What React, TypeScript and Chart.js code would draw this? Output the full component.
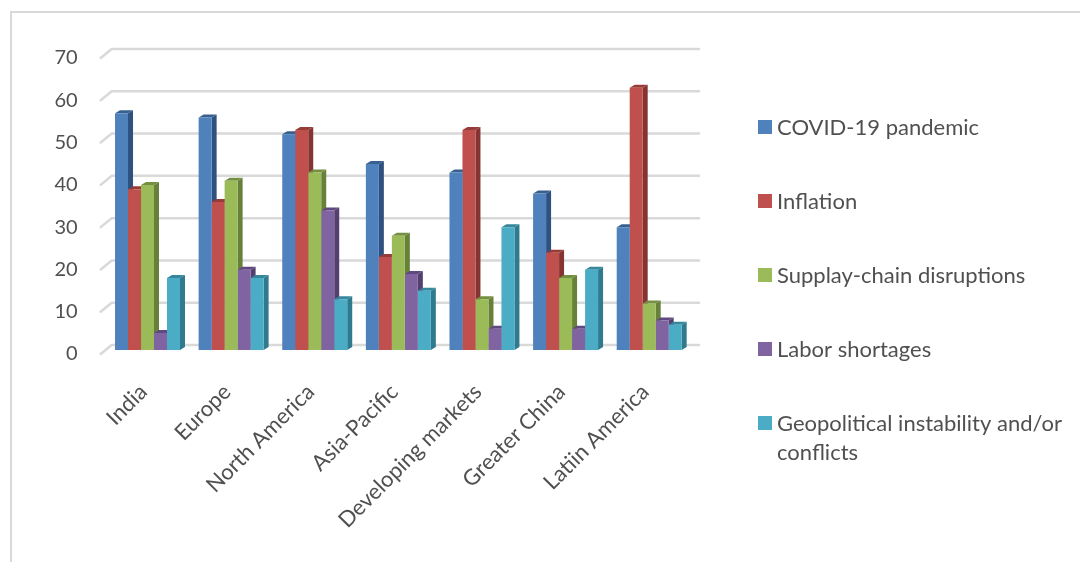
import React, { useEffect, useRef } from "react";
import { Chart, registerables } from "chart.js";

Chart.register(...registerables);

const categories = ["India", "Europe", "North America", "Asia-Pacific", "Developing markets", "Greater China", "Latiin America"];
const covid = [56, 55, 51, 44, 42, 37, 29];
const inflation = [38, 35, 52, 22, 52, 23, 62];
const supply = [39, 40, 42, 27, 12, 17, 11];
const labor = [4, 19, 33, 18, 5, 5, 7];
const geo = [17, 17, 12, 14, 29, 19, 6];
const seriesNames = ["COVID-19 pandemic", "Inflation", "Supplay-chain disruptions", "Labor shortages", "Geopolitical instability and/or conflicts"];
const legendLines = [["COVID-19 pandemic"], ["Inflation"], ["Supplay-chain disruptions"], ["Labor shortages"], ["Geopolitical instability and/or", "conflicts"]];
const front = ["#4F81BD", "#C0504D", "#9BBB59", "#8064A2", "#4BACC6"];
const side = ["#2F5180", "#853432", "#67803A", "#54406F", "#2F7A8E"];
const topFace = ["#37608F", "#973C39", "#748F42", "#5F4980", "#36869C"];

const FONT = "Lato, 'Open Sans', sans-serif";
const TEXT = "#505050";
const GRID = "#D9D9D9";
const DX = 5;
const DY = 3;
const LIFT = 4;

const scene = {
  id: "scene",
  beforeDraw(chart: any) {
    const c = chart.ctx;
    c.save();
    c.fillStyle = "#fff";
    c.fillRect(0, 0, chart.width, chart.height);
    c.strokeStyle = GRID;
    c.lineWidth = 2;
    c.beginPath();
    c.moveTo(11, chart.height);
    c.lineTo(11, 12);
    c.lineTo(chart.width, 12);
    c.stroke();
    const { left } = chart.chartArea;
    const yScale = chart.scales.y;
    c.lineWidth = 2.5;
    c.lineCap = "round";
    yScale.ticks.forEach((t: any) => {
      const y = yScale.getPixelForValue(t.value) - LIFT + 2;
      c.beginPath();
      c.moveTo(left - 5, y + 2);
      c.lineTo(left + 6, y - 7);
      c.lineTo(699, y - 7);
      c.stroke();
    });
    c.restore();
  },
  beforeDatasetsDraw(chart: any) {
    const c = chart.ctx;
    c.save();
    c.translate(0, -LIFT);
    const n = chart.data.labels.length;
    for (let idx = 0; idx < n; idx++) {
      chart.data.datasets.forEach((_: any, di: number) => {
        const el = chart.getDatasetMeta(di).data[idx];
        const l = el.x - el.width / 2;
        const r = el.x + el.width / 2;
        const t = el.y;
        const b = el.base;
        c.fillStyle = side[di];
        c.beginPath();
        c.moveTo(r, t);
        c.lineTo(r + DX, t - DY);
        c.lineTo(r + DX, b - DY);
        c.lineTo(r, b);
        c.closePath();
        c.fill();
        c.fillStyle = topFace[di];
        c.beginPath();
        c.moveTo(l, t);
        c.lineTo(l + DX, t - DY);
        c.lineTo(r + DX, t - DY);
        c.lineTo(r, t);
        c.closePath();
        c.fill();
      });
    }
  },
  afterDatasetsDraw(chart: any) {
    const c = chart.ctx;
    c.restore();
    c.save();
    c.font = `22px ${FONT}`;
    c.textBaseline = "middle";
    legendLines.forEach((lines, i) => {
      const y = 128 + i * 74;
      c.fillStyle = front[i];
      c.fillRect(758, y - 8, 14, 14);
      c.fillStyle = TEXT;
      lines.forEach((line, j) => c.fillText(line, 777, y + j * 29));
    });
    c.restore();
  },
};

export default function App() {
  const ref = useRef<HTMLCanvasElement>(null);
  useEffect(() => {
    const values = [covid, inflation, supply, labor, geo];
    const chart = new Chart(ref.current!, {
      type: "bar",
      data: {
        labels: categories,
        datasets: seriesNames.map((label, i) => ({
          label,
          data: values[i],
          backgroundColor: front[i],
          barPercentage: 1,
          categoryPercentage: 0.777,
        })),
      },
      options: {
        responsive: false,
        animation: false,
        devicePixelRatio: 1,
        layout: { padding: { top: 58, right: 389, left: 0, bottom: 0 } },
        plugins: { legend: { display: false }, title: { display: false }, tooltip: { enabled: false } },
        scales: {
          x: {
            grid: { display: false },
            border: { display: false },
            afterFit: (s: any) => { s.height = 208; },
            ticks: {
              autoSkip: false,
              minRotation: 45,
              maxRotation: 45,
              padding: 17,
              labelOffset: -4,
              color: TEXT,
              font: { family: FONT, size: 22 },
            },
          },
          y: {
            min: 0,
            max: 70,
            grid: { display: false },
            border: { display: false },
            afterFit: (s: any) => { s.width = 105.7; },
            ticks: {
              stepSize: 10,
              padding: 20,
              color: TEXT,
              font: { family: FONT, size: 20 },
            },
          },
        },
      },
      plugins: [scene],
    } as any);
    return () => chart.destroy();
  }, []);
  return (
    <canvas
      ref={ref}
      width={1080}
      height={562}
      style={{ position: "fixed", left: 0, top: 0, width: 1080, height: 562, display: "block" }}
    />
  );
}
